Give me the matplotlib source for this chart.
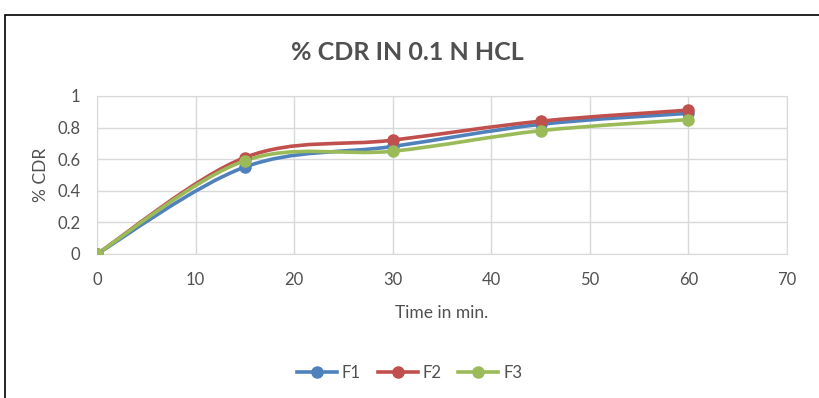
import numpy as np
import matplotlib.pyplot as plt
from matplotlib.path import Path
from matplotlib.patches import PathPatch, Rectangle
from matplotlib.lines import Line2D

plt.rcParams['font.family'] = ['Lato', 'DejaVu Sans']

# data
time = [0, 15, 30, 45, 60]
f1 = [0, 0.55, 0.68, 0.82, 0.89]
f2 = [0, 0.61, 0.72, 0.84, 0.91]
f3 = [0, 0.59, 0.65, 0.78, 0.85]
names = ['F1', 'F2', 'F3']
colors = ['#4F81BD', '#C0504D', '#9BBB59']
text_col = '#505050'


def smooth_path(x, y):
    # Excel-like smoothed line: bezier segments through every point
    p = np.column_stack([x, y]).astype(float)
    n = len(p)
    verts = [p[0]]
    codes = [Path.MOVETO]
    for i in range(n - 1):
        p0 = p[i - 1] if i > 0 else p[i]
        p3 = p[i + 2] if i + 2 < n else p[i + 1]
        c1 = p[i] + (p[i + 1] - p0) / 6
        c2 = p[i + 1] - (p3 - p[i]) / 6
        verts += [c1, c2, p[i + 1]]
        codes += [Path.CURVE4] * 3
    return Path(verts, codes)


fig = plt.figure(figsize=(8.19, 3.98), dpi=100)
ax = fig.add_axes([0.1184, 0.362, 0.8426, 0.397])

for ys, c in zip([f1, f2, f3], colors):
    ax.add_patch(PathPatch(smooth_path(time, ys), facecolor='none',
                           edgecolor=c, lw=2.6, zorder=3))
    ax.plot(time, ys, 'o', color=c, markersize=8, zorder=4)

ax.set_xlim(0, 70)
ax.set_ylim(0, 1)
ax.set_xticks(range(0, 71, 10))
ax.set_yticks([0, 0.2, 0.4, 0.6, 0.8, 1])
ax.set_yticklabels(['0', '0.2', '0.4', '0.6', '0.8', '1'])
ax.grid(color='#D9D9D9', lw=1)
ax.set_axisbelow(True)
for s in ax.spines.values():
    s.set_color('#D9D9D9')
ax.tick_params(length=0, labelsize=12, labelcolor=text_col)
ax.tick_params(axis='x', pad=13)
ax.tick_params(axis='y', pad=12)

ax.set_xlabel('Time in min.', fontsize=12.5, color=text_col, labelpad=12)
ax.set_ylabel('% CDR', fontsize=12.5, color=text_col, labelpad=6)
fig.text(0.497, 0.868, '% CDR IN 0.1 N HCL', fontsize=18, fontweight='bold',
         color=text_col, ha='center', va='center')

handles = [Line2D([], [], color=c, lw=2.6, marker='o', markersize=8) for c in colors]
fig.legend(handles, names, loc='center', bbox_to_anchor=(0.5, 0.063), ncol=3,
           frameon=False, fontsize=12, labelcolor=text_col,
           handlelength=2.4, columnspacing=1.0, handletextpad=0.3)

fig.patches.append(Rectangle((5 / 819, -0.1), 1.2, 1 - 15 / 398 + 0.1,
                             transform=fig.transFigure, fill=False,
                             edgecolor='black', lw=1.2))

fig.savefig('out.png', dpi=100)
